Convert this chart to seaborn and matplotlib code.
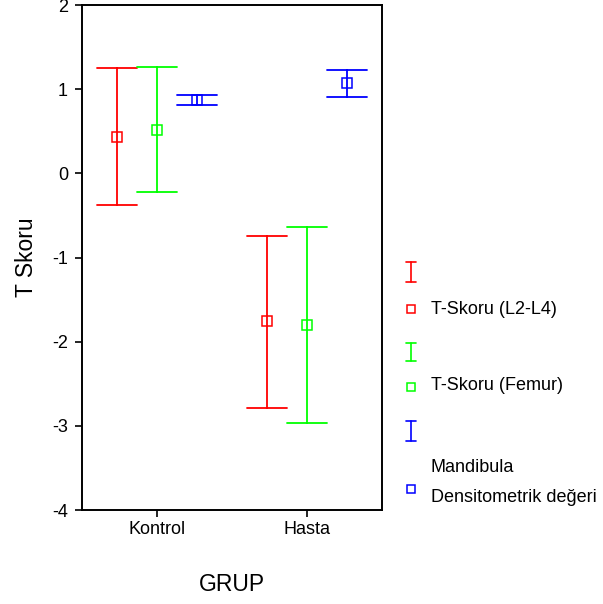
import matplotlib
matplotlib.use("Agg")
import matplotlib.pyplot as plt
from matplotlib.lines import Line2D
import numpy as np
import pandas as pd
import seaborn as sns

# Group means with lower / upper limits of the error bars
groups = ["Kontrol", "Hasta"]
series = ["T-Skoru (L2-L4)", "T-Skoru (Femur)", "Mandibula\nDensitometrik değeri"]
colors = ["#FF0000", "#00FF00", "#0000FF"]

means = {
    "T-Skoru (L2-L4)": [0.43, -1.75],
    "T-Skoru (Femur)": [0.51, -1.80],
    "Mandibula\nDensitometrik değeri": [0.87, 1.07],
}
lower = {
    "T-Skoru (L2-L4)": [-0.38, -2.79],
    "T-Skoru (Femur)": [-0.22, -2.97],
    "Mandibula\nDensitometrik değeri": [0.81, 0.91],
}
upper = {
    "T-Skoru (L2-L4)": [1.25, -0.74],
    "T-Skoru (Femur)": [1.27, -0.64],
    "Mandibula\nDensitometrik değeri": [0.93, 1.23],
}
y_ticks = [-4, -3, -2, -1, 0, 1, 2]

# Long table: each cell holds lower limit, mean, upper limit;
# the median is the mean and min/max give the interval.
rows = []
for s in series:
    for i, g in enumerate(groups):
        for v in (lower[s][i], means[s][i], upper[s][i]):
            rows.append({"GRUP": g, "seri": s, "T": v})
df = pd.DataFrame(rows)

sns.set_style("white")
plt.rcParams["font.family"] = ["Liberation Sans", "DejaVu Sans"]
plt.rcParams["text.color"] = "black"
plt.rcParams["axes.labelcolor"] = "black"
plt.rcParams["xtick.color"] = "black"
plt.rcParams["ytick.color"] = "black"

fig = plt.figure(figsize=(6.03, 6.04), dpi=100)
ax = fig.add_axes([0.136, 0.1556, 0.4975, 0.836])

sns.pointplot(
    data=df, x="GRUP", y="T", hue="seri", order=groups, hue_order=series,
    palette=colors, estimator="median",
    errorbar=lambda v: (np.min(v), np.max(v)),
    dodge=0.5333, capsize=0.2667, err_kws={"linewidth": 1.3},
    markers="s", linestyles="none", markersize=7,
    markerfacecolor="none", markeredgewidth=1.1,
    legend=False, ax=ax,
)

ax.set_xlim(-0.5, 1.5)
ax.set_ylim(-4, 2)
ax.set_yticks(y_ticks)
ax.set_yticklabels([str(t) for t in y_ticks])
for sp in ax.spines.values():
    sp.set_visible(True)
    sp.set_color("black")
    sp.set_linewidth(1.4)
ax.tick_params(axis="both", direction="out", length=5, width=1.2,
               colors="black", labelsize=13, left=True, bottom=True)
ax.tick_params(axis="y", pad=5)
ax.tick_params(axis="x", pad=3)
ax.set_xlabel("GRUP", fontsize=16.5, labelpad=25, color="black")
ax.set_ylabel("T Skoru", fontsize=16.5, labelpad=10, color="black")

# Legend drawn beside the axes in figure pixel coordinates
W, H = 603, 604


def fx(px):
    return px / W


def fy(py):
    return 1 - py / H


def ibar(x, y0, y1, c):
    fig.add_artist(Line2D([fx(x), fx(x)], [fy(y0), fy(y1)], color=c, lw=1.2))
    for yy in (y0, y1):
        fig.add_artist(Line2D([fx(x - 5), fx(x + 5)], [fy(yy), fy(yy)], color=c, lw=1.2))


def square(x, y, c):
    fig.add_artist(Line2D([fx(x)], [fy(y)], marker="s", markersize=6,
                          markerfacecolor="none", markeredgecolor=c,
                          markeredgewidth=1.1, linestyle="none"))


ibar(411, 262, 282, colors[0])
square(411, 309, colors[0])
fig.text(fx(431), fy(309), "T-Skoru (L2-L4)", fontsize=13, va="center", ha="left")

ibar(411, 343, 361, colors[1])
square(411, 387, colors[1])
fig.text(fx(431), fy(386), "T-Skoru (Femur)", fontsize=13, va="center", ha="left")

ibar(411, 421, 441, colors[2])
fig.text(fx(431), fy(467), "Mandibula", fontsize=13, va="center", ha="left")
square(411, 489, colors[2])
fig.text(fx(431), fy(498), "Densitometrik değeri", fontsize=13, va="center", ha="left")

fig.savefig("out.png", dpi=100, facecolor="white")
